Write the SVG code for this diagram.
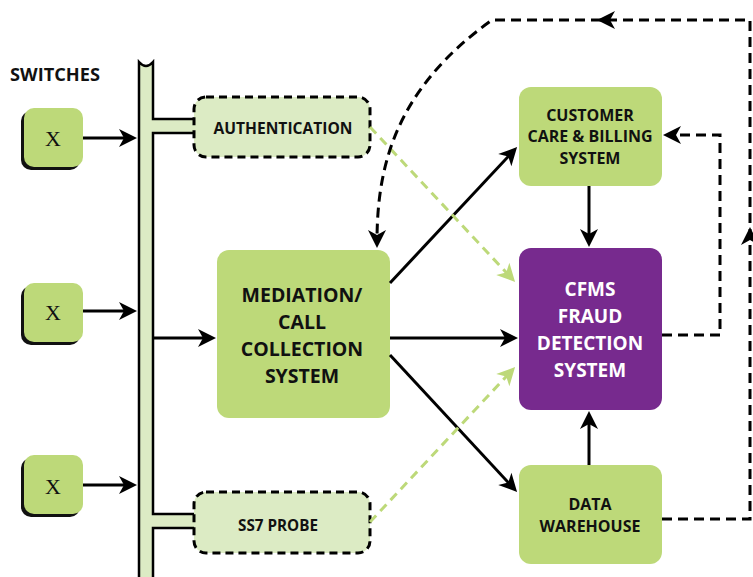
<svg xmlns="http://www.w3.org/2000/svg" xmlns:xlink="http://www.w3.org/1999/xlink" width="753" height="577" viewBox="0 0 753 577">
<style>
.lbl{font-family:"Open Sans","Noto Sans","Liberation Sans",sans-serif;font-weight:700;text-anchor:middle;fill:#111}
.x{font-family:"Liberation Serif","DejaVu Serif",serif;font-size:22px;text-anchor:middle;fill:#111}
.sw{fill:#bdd979}
.shadow{fill:#111}
.solid{fill:none;stroke:#000;stroke-width:3}
.dash{fill:none;stroke:#000;stroke-width:3;stroke-dasharray:10 6}
.gdash{fill:none;stroke:#bdd979;stroke-width:3;stroke-dasharray:9 6}
.light{fill:#dcebc4;stroke:#000;stroke-width:3;stroke-dasharray:8 5}
.green{fill:#bdd979}
.purple{fill:#772a8e}
</style>
<defs>
<path id="head" d="M6,0 L-12,-9 L-7,0 L-12,9 Z"/>
<marker id="ah" viewBox="-14 -10 22 20" refX="0" refY="0" markerWidth="22" markerHeight="20" orient="auto" markerUnits="userSpaceOnUse"><use xlink:href="#head" fill="#000"/></marker>
<marker id="gh" viewBox="-14 -10 22 20" refX="0" refY="0" markerWidth="22" markerHeight="20" orient="auto" markerUnits="userSpaceOnUse"><use xlink:href="#head" fill="#bdd979"/></marker>
</defs>
<rect width="753" height="577" fill="#fff"/>
<text class="lbl" x="55" y="81" font-size="17" textLength="90" lengthAdjust="spacingAndGlyphs">SWITCHES</text>

<g id="bus">
<path d="M139,580 V62 Q146,70 153,62 V119 H196 V133 H153 V514 H196 V528 H153 V580 Z" fill="#dcebc4"/>
<path d="M139,580 V62 Q146,70 153,62 V119 H196 M196,133 H153 V514 H196 M196,528 H153 V580" fill="none" stroke="#000" stroke-width="2.5"/>
</g>

<g id="switch1"><rect class="shadow" x="21" y="111" width="59" height="59" rx="10"/><rect class="sw" x="24" y="108" width="59" height="59" rx="10"/><text class="x" x="53" y="146">X</text></g>
<g id="switch2"><rect class="shadow" x="21" y="286" width="59" height="59" rx="10"/><rect class="sw" x="24" y="283" width="59" height="59" rx="10"/><text class="x" x="53" y="320">X</text></g>
<g id="switch3"><rect class="shadow" x="21" y="458" width="59" height="59" rx="10"/><rect class="sw" x="24" y="455" width="59" height="59" rx="10"/><text class="x" x="53" y="494">X</text></g>

<g id="authentication"><rect class="light" x="194" y="97" width="176" height="60" rx="12"/><text class="lbl" x="283" y="134" font-size="15.5" textLength="139" lengthAdjust="spacingAndGlyphs">AUTHENTICATION</text></g>
<g id="ss7"><rect class="light" x="194" y="492" width="176" height="61" rx="12"/><text class="lbl" x="278" y="531" font-size="15.5" textLength="80" lengthAdjust="spacingAndGlyphs">SS7 PROBE</text></g>

<g id="mediation"><rect class="green" x="217" y="250" width="173" height="168" rx="12"/>
<text class="lbl" font-size="19.5"><tspan x="302" y="302">MEDIATION/</tspan><tspan x="302" y="329">CALL</tspan><tspan x="302" y="356">COLLECTION</tspan><tspan x="302" y="383">SYSTEM</tspan></text></g>

<g id="customer"><rect class="green" x="519" y="87" width="143" height="99" rx="12"/>
<text class="lbl" font-size="16"><tspan x="590" y="121">CUSTOMER</tspan><tspan x="590" y="142">CARE &amp; BILLING</tspan><tspan x="590" y="164">SYSTEM</tspan></text></g>

<g id="cfms"><rect class="purple" x="519" y="248" width="143" height="162" rx="12"/>
<text class="lbl" font-size="19" style="fill:#fff"><tspan x="590" y="296">CFMS</tspan><tspan x="590" y="323">FRAUD</tspan><tspan x="590" y="350">DETECTION</tspan><tspan x="590" y="377">SYSTEM</tspan></text></g>

<g id="warehouse"><rect class="green" x="519" y="465" width="143" height="99" rx="12"/>
<text class="lbl" font-size="16"><tspan x="590" y="510">DATA</tspan><tspan x="590" y="532">WAREHOUSE</tspan></text></g>

<g id="connectors">
<line class="solid" x1="83" y1="138" x2="131" y2="138" marker-end="url(#ah)"/>
<line class="solid" x1="83" y1="311" x2="131" y2="311" marker-end="url(#ah)"/>
<line class="solid" x1="83" y1="485" x2="131" y2="485" marker-end="url(#ah)"/>
<line class="solid" x1="153" y1="338" x2="210" y2="338" marker-end="url(#ah)"/>
<line class="solid" x1="390" y1="338" x2="512" y2="338" marker-end="url(#ah)"/>
<line class="solid" x1="390" y1="283" x2="513" y2="151.4" marker-end="url(#ah)"/>
<line class="solid" x1="390" y1="355" x2="513" y2="487.6" marker-end="url(#ah)"/>
<line class="solid" x1="589" y1="186" x2="589" y2="241" marker-end="url(#ah)"/>
<line class="solid" x1="589" y1="465" x2="589" y2="417" marker-end="url(#ah)"/>
<line class="gdash" x1="370" y1="127" x2="511" y2="277.6" marker-end="url(#gh)"/>
<line class="gdash" x1="370" y1="522" x2="511" y2="371.4" marker-end="url(#gh)"/>
<path class="dash" d="M662,335 H720 V135 H669" marker-end="url(#ah)"/>
<path class="dash" d="M662,519 H750 V20 H492 C394,90 377,168 377,242" marker-end="url(#ah)"/>
<use xlink:href="#head" transform="translate(750,233) rotate(-90)"/>
<use xlink:href="#head" transform="translate(603,20) rotate(180)"/>
</g>
</svg>
